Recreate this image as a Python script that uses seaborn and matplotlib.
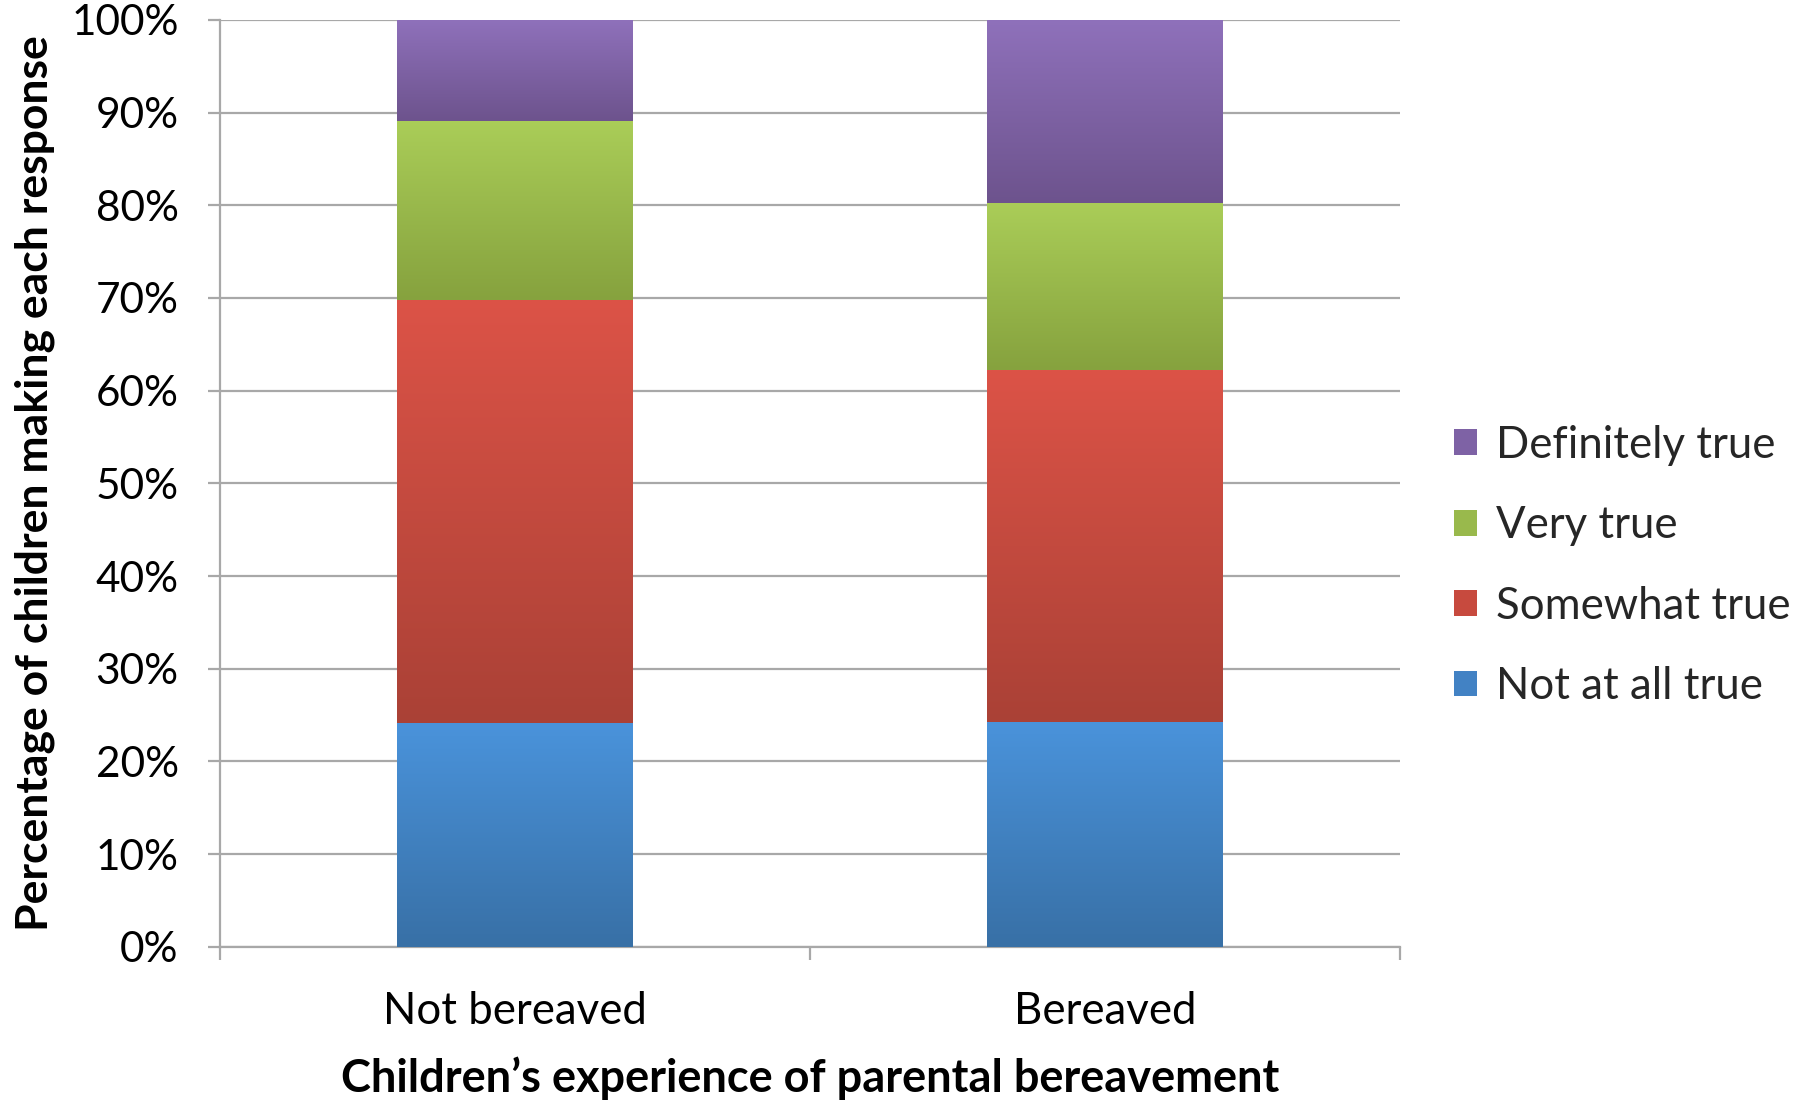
import numpy as np
import pandas as pd
import matplotlib
matplotlib.use("Agg")
import matplotlib.pyplot as plt
import seaborn as sns
from matplotlib.colors import LinearSegmentedColormap
from matplotlib.patches import Patch
from matplotlib.ticker import FixedLocator

# ---- data ----
groups = ["Not bereaved", "Bereaved"]
responses = ["Not at all true", "Somewhat true", "Very true", "Definitely true"]
not_at_all_true = [24.1, 24.3]
somewhat_true = [45.7, 37.9]
very_true = [19.3, 18.0]
definitely_true = [10.9, 19.8]
series = [not_at_all_true, somewhat_true, very_true, definitely_true]
ytick_values = [0, 10, 20, 30, 40, 50, 60, 70, 80, 90, 100]
ytick_labels = [f"{v}%" for v in ytick_values]
xlabel = "Children\u2019s experience of parental bereavement"
ylabel = "Percentage of children making each response"

# ---- styles ----
top_colors = ["#4A93DB", "#DC5347", "#AACD58", "#8F71BB"]
bottom_colors = ["#3870A6", "#AA4136", "#86A23E", "#6D538D"]
mid_colors = ["#4282C4", "#C74A3E", "#99B94C", "#7E62A5"]
grid_color = "#A8A8A8"

sns.set_theme(style="white")
plt.rcParams["font.family"] = ["Lato", "DejaVu Sans"]

fig = plt.figure(figsize=(18.06, 11.01), dpi=100)
ax = fig.add_axes([0.122, 0.140, 0.653, 0.842])

bottom = np.zeros(len(groups))
for name, vals, ct, cb, cm in zip(responses, series, top_colors, bottom_colors, mid_colors):
    df = pd.DataFrame({"group": groups, "value": vals})
    n0 = len(ax.patches)
    sns.barplot(data=df, x="group", y="value", order=groups, bottom=bottom,
                color=cm, saturation=1, width=0.4, errorbar=None,
                linewidth=0, ax=ax, zorder=3)
    cmap = LinearSegmentedColormap.from_list(name, [cb, ct])
    grad = np.linspace(0, 1, 256).reshape(-1, 1)
    for p in ax.patches[n0:]:
        x0, y0 = p.get_x(), p.get_y()
        w, h = p.get_width(), p.get_height()
        ax.imshow(grad, cmap=cmap, origin="lower", aspect="auto",
                  extent=[x0, x0 + w, y0, y0 + h], zorder=3.5,
                  interpolation="bilinear")
    bottom = bottom + np.array(vals)

ax.set_xlim(-0.5, len(groups) - 0.5)
ax.set_ylim(0, 100)
ax.set_aspect("auto")

ax.set_yticks(ytick_values, ytick_labels)
ax.set_xticks(range(len(groups)), groups)
ax.xaxis.set_minor_locator(FixedLocator([-0.5, 0.5, 1.5]))

ax.set_axisbelow(True)
ax.yaxis.grid(True, color=grid_color, linewidth=1.6)
ax.xaxis.grid(False)

for s in ["top", "right"]:
    ax.spines[s].set_visible(False)
for s in ["left", "bottom"]:
    ax.spines[s].set_color(grid_color)
    ax.spines[s].set_linewidth(1.6)

ax.tick_params(axis="y", which="major", left=True, length=9, width=1.6,
               color=grid_color, labelsize=30.5, pad=21, labelcolor="black")
ax.tick_params(axis="x", which="major", bottom=False, length=0,
               labelsize=31.5, pad=32, labelcolor="black")
ax.tick_params(axis="x", which="minor", bottom=True, length=9, width=1.6,
               color=grid_color)

ax.set_xlabel(xlabel, fontsize=32.5, fontweight="bold", color="black")
ax.set_ylabel(ylabel, fontsize=32, fontweight="bold", color="black")
ax.xaxis.set_label_coords(0.5, -0.142)
ax.xaxis.label.set_va("center")
ax.yaxis.set_label_coords(-0.157, 0.5)
ax.yaxis.label.set_va("center")

handles = [Patch(facecolor=c, edgecolor="none") for c in mid_colors]
leg = fig.legend(handles[::-1], responses[::-1], loc="center left",
                 bbox_to_anchor=(0.7955, 0.486), frameon=False, fontsize=31.5,
                 handlelength=0.53, handleheight=0.53, handletextpad=0.42,
                 labelspacing=0.9, borderaxespad=0)

fig.savefig("out.png", dpi=100)
